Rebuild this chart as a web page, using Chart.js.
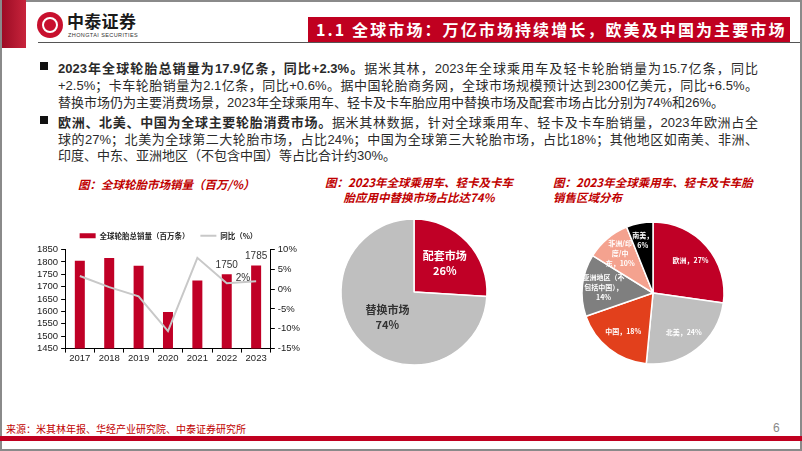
<!DOCTYPE html>
<html>
<head>
<meta charset="utf-8">
<script src="https://cdn.jsdelivr.net/npm/chart.js@4.4.1/dist/chart.umd.min.js"></script>
<style>
  html, body { margin: 0; padding: 0; background: #fff; }
  body { width: 802px; height: 451px; position: relative; overflow: hidden;
         font-family: "Liberation Sans", "Noto Sans CJK SC", sans-serif; }
  .abs { position: absolute; }
  #frame { left: 0; top: 0; width: 798px; height: 447px; border: 2px solid #8a8a8a; }
  #stripe { left: 2px; top: 0; width: 24px; height: 48px; background: linear-gradient(90deg, #9c0c24, #c8243c); }
  #hline { left: 38px; top: 42px; width: 762px; height: 1px; background: #555; }
  #titlebox { left: 308px; top: 17px; width: 482px; height: 25px; background: #c00020; color: #fff;
              font: bold 16px "Noto Sans CJK SC", sans-serif; line-height: 25px; padding-left: 8px; box-sizing: border-box;
              letter-spacing: 2.1px; white-space: nowrap; }
  #logo { left: 37px; top: 12px; width: 26px; height: 26px; border-radius: 50%; background: #c8102e; }
  #logo::after { content: ""; position: absolute; left: 5px; top: 5px; width: 12px; height: 12px; border: 2px solid #fff; border-radius: 50%; }
  #brand { left: 67px; top: 8px; font: bold 17px "Noto Sans CJK SC", sans-serif; color: #1a1a1a; letter-spacing: 0.3px; }
  #brand2 { left: 68px; top: 32px; font: 5.5px "Liberation Sans", sans-serif; color: #333; letter-spacing: 0.4px; }
  .line { left: 58px; width: 700px; font-size: 13px; color: #2a2a2a; white-space: nowrap; text-align: justify; text-align-last: justify; }
  .line.last { text-align-last: left; }
  .bullet { left: 40px; width: 8px; height: 8px; background: #111; }
  .ctitle { font: italic bold 11.5px "Noto Sans CJK SC", sans-serif; color: #c00000; white-space: nowrap; line-height: 15px; }
  #foot { left: 6px; top: 421px; font: 10px "Noto Sans CJK SC", sans-serif; color: #c00000; }
  #page { left: 773px; top: 421px; font: 12px "Liberation Sans", sans-serif; color: #888; }
  #redbar { left: 0; top: 436px; width: 802px; height: 5px; background: #c00020; }
</style>
</head>
<body>
<div id="frame" class="abs"></div>
<div id="stripe" class="abs"></div>
<div id="logo" class="abs"></div>
<div id="brand" class="abs">中泰证券</div>
<div id="brand2" class="abs">ZHONGTAI SECURITIES</div>
<div id="hline" class="abs"></div>
<div id="titlebox" class="abs">1.1 全球市场：万亿市场持续增长，欧美及中国为主要市场</div>

<div class="abs bullet" style="top:62px"></div>
<div class="abs line" style="top:58px"><b>2023年全球轮胎总销量为17.9亿条，同比+2.3%。</b>据米其林，2023年全球乘用车及轻卡轮胎销量为15.7亿条，同比</div>
<div class="abs line" style="top:75px">+2.5%；卡车轮胎销量为2.1亿条，同比+0.6%。据中国轮胎商务网，全球市场规模预计达到2300亿美元，同比+6.5%。</div>
<div class="abs line last" style="top:92px">替换市场仍为主要消费场景，2023年全球乘用车、轻卡及卡车胎应用中替换市场及配套市场占比分别为74%和26%。</div>
<div class="abs bullet" style="top:116px"></div>
<div class="abs line" style="top:112px"><b>欧洲、北美、中国为全球主要轮胎消费市场。</b>据米其林数据，针对全球乘用车、轻卡及卡车胎销量，2023年欧洲占全</div>
<div class="abs line" style="top:129px">球的27%；北美为全球第二大轮胎市场，占比24%；中国为全球第三大轮胎市场，占比18%；其他地区如南美、非洲、</div>
<div class="abs line last" style="top:145px">印度、中东、亚洲地区（不包含中国）等占比合计约30%。</div>

<div class="abs ctitle" style="left:78px; top:177px">图：全球轮胎市场销量（百万/%）</div>
<div class="abs ctitle" style="left:319px; top:175px; width:200px; text-align:center">图：2023年全球乘用车、轻卡及卡车<br>胎应用中替换市场占比达74%</div>
<div class="abs ctitle" style="left:553px; top:175px">图：2023年全球乘用车、轻卡及卡车胎<br>销售区域分布</div>

<div class="abs" style="left:26px; top:221px; width:279px; height:143px"><canvas id="c1"></canvas></div>
<div class="abs" style="left:324px; top:202px; width:180px; height:180px"><canvas id="c2"></canvas></div>
<div class="abs" style="left:563px; top:203px; width:180px; height:180px"><canvas id="c3"></canvas></div>

<div id="foot" class="abs">来源：米其林年报、华经产业研究院、中泰证券研究所</div>
<div id="page" class="abs">6</div>
<div id="redbar" class="abs"></div>

<script>
// data
const years = ["2017", "2018", "2019", "2020", "2021", "2022", "2023"];
const sales = [1805, 1816, 1784, 1598, 1725, 1750, 1785]; // 百万条
const yoy = [3.3, 0.5, -1.8, -10.6, 7.9, 1.5, 2.0]; // %
const salesLabels = ["", "", "", "", "", "1750", "1785"];
const yoyLabels = ["", "", "", "", "", "", "2%"];

const marketNames = ["配套市场", "替换市场"];
const marketShare = [26, 74];

const regionNames = ["欧洲", "北美", "中国", "亚洲地区（不包括中国）", "非洲/印度/中东", "南美"];
const regionShare = [27, 24, 18, 14, 10, 6];
const regionLabelLines = [
    ["欧洲，27%"],
    ["北美，24%"],
    ["中国，18%"],
    ["亚洲地区（不", "包括中国），", "14%"],
    ["非洲/印", "度/中", "东，10%"],
    ["南美，", "6%"],
];

const RED = "#c00026";
const CJK = '"Noto Sans CJK SC", sans-serif';

// value labels on bar/line
const valueLabels = {
    id: "valueLabels",
    afterDatasetsDraw(chart) {
        const ctx = chart.ctx;
        ctx.save();
        ctx.font = '10px "Liberation Sans", sans-serif';
        ctx.fillStyle = "#333";
        chart.getDatasetMeta(0).data.forEach((bar, i) => {
            if (!salesLabels[i]) return;
            ctx.textAlign = "center";
            ctx.textBaseline = "bottom";
            ctx.fillText(salesLabels[i], bar.x, bar.y - 4);
        });
        chart.getDatasetMeta(1).data.forEach((pt, i) => {
            if (!yoyLabels[i]) return;
            ctx.textAlign = "right";
            ctx.textBaseline = "middle";
            ctx.fillText(yoyLabels[i], pt.x - 6, pt.y - 3);
        });
        ctx.restore();
    },
};

// text inside pie slices
function sliceLabels(lines, colors, font, frac, lh) {
    return {
        id: "sliceLabels",
        afterDatasetsDraw(chart) {
            const ctx = chart.ctx;
            ctx.save();
            ctx.font = font;
            ctx.textAlign = "center";
            ctx.textBaseline = "middle";
            chart.getDatasetMeta(0).data.forEach((arc, i) => {
                const mid = (arc.startAngle + arc.endAngle) / 2;
                const r = arc.outerRadius * frac[i];
                const x = arc.x + Math.cos(mid) * r;
                const y = arc.y + Math.sin(mid) * r;
                ctx.fillStyle = colors[i];
                const ls = lines[i];
                ls.forEach((t, k) => ctx.fillText(t, x, y + (k - (ls.length - 1) / 2) * lh));
            });
            ctx.restore();
        },
    };
}

const axisGrid = { display: true, drawOnChartArea: false, tickLength: 4, color: "#000" };
const tickFont = { size: 9.5, family: '"Liberation Sans", sans-serif' };

new Chart(document.getElementById("c1"), {
    type: "bar",
    data: {
        labels: years,
        datasets: [
            {
                label: "全球轮胎总销量（百万条）",
                data: sales,
                backgroundColor: RED,
                yAxisID: "y",
                barPercentage: 0.34,
                categoryPercentage: 1,
                order: 2,
            },
            {
                type: "line",
                label: "同比（%）",
                data: yoy,
                borderColor: "#c8c8c8",
                backgroundColor: "#c8c8c8",
                borderWidth: 2,
                pointRadius: 0,
                tension: 0,
                yAxisID: "y1",
                order: 1,
            },
        ],
    },
    options: {
        responsive: true,
        maintainAspectRatio: false,
        animation: false,
        layout: { padding: { left: 8, right: 2, top: 0, bottom: 0 } },
        plugins: {
            legend: {
                display: true,
                labels: {
                    usePointStyle: true,
                    boxWidth: 16,
                    boxHeight: 5,
                    pointStyleWidth: 16,
                    padding: 11,
                    color: "#222",
                    font: { size: 7.5, family: CJK, weight: "bold" },
                    sort: (a, b) => a.datasetIndex - b.datasetIndex,
                    generateLabels(chart) {
                        const items = Chart.defaults.plugins.legend.labels.generateLabels(chart);
                        items.forEach((it) => {
                            if (it.datasetIndex === 0) { it.pointStyle = "rect"; it.lineWidth = 0; }
                            else { it.pointStyle = "line"; it.lineWidth = 2; it.strokeStyle = "#c8c8c8"; }
                        });
                        return items;
                    },
                },
            },
            tooltip: { enabled: false },
        },
        scales: {
            x: {
                grid: axisGrid,
                border: { color: "#000" },
                ticks: { color: "#222", font: tickFont, padding: 0 },
            },
            y: {
                position: "left",
                min: 1450,
                max: 1850,
                ticks: { stepSize: 50, autoSkip: false, color: "#222", font: tickFont, padding: 3, callback: (v) => String(v) },
                grid: axisGrid,
                border: { color: "#000" },
            },
            y1: {
                position: "right",
                min: -15,
                max: 10,
                ticks: { stepSize: 5, autoSkip: false, color: "#222", font: tickFont, padding: 3, callback: (v) => v + "%" },
                grid: axisGrid,
                border: { color: "#000" },
            },
        },
    },
    plugins: [valueLabels],
});

new Chart(document.getElementById("c2"), {
    type: "pie",
    data: {
        labels: marketNames,
        datasets: [{ data: marketShare, backgroundColor: [RED, "#bfbfbf"], borderColor: "#fff", borderWidth: 1.5 }],
    },
    options: {
        responsive: true,
        maintainAspectRatio: false,
        animation: false,
        radius: 73,
        plugins: { legend: { display: false }, tooltip: { enabled: false } },
    },
    plugins: [
        sliceLabels(
            [["配套市场", "26%"], ["替换市场", "74%"]],
            ["#fff", "#333"],
            'bold 11px "Noto Sans CJK SC", sans-serif',
            [0.58, 0.5],
            15
        ),
    ],
});

new Chart(document.getElementById("c3"), {
    type: "pie",
    data: {
        labels: regionNames,
        datasets: [
            {
                data: regionShare,
                backgroundColor: [RED, "#bfbfbf", "#e2401c", "#7f7f7f", "#f4a28f", "#000000"],
                borderColor: "#fff",
                borderWidth: 1.5,
            },
        ],
    },
    options: {
        responsive: true,
        maintainAspectRatio: false,
        animation: false,
        radius: 71,
        plugins: { legend: { display: false }, tooltip: { enabled: false } },
    },
    plugins: [
        sliceLabels(
            regionLabelLines,
            ["#fff", "#fff", "#fff", "#fff", "#fff", "#fff"],
            'bold 7px "Noto Sans CJK SC", sans-serif',
            [0.7, 0.7, 0.68, 0.7, 0.72, 0.76],
            10
        ),
    ],
});
</script>
</body>
</html>
